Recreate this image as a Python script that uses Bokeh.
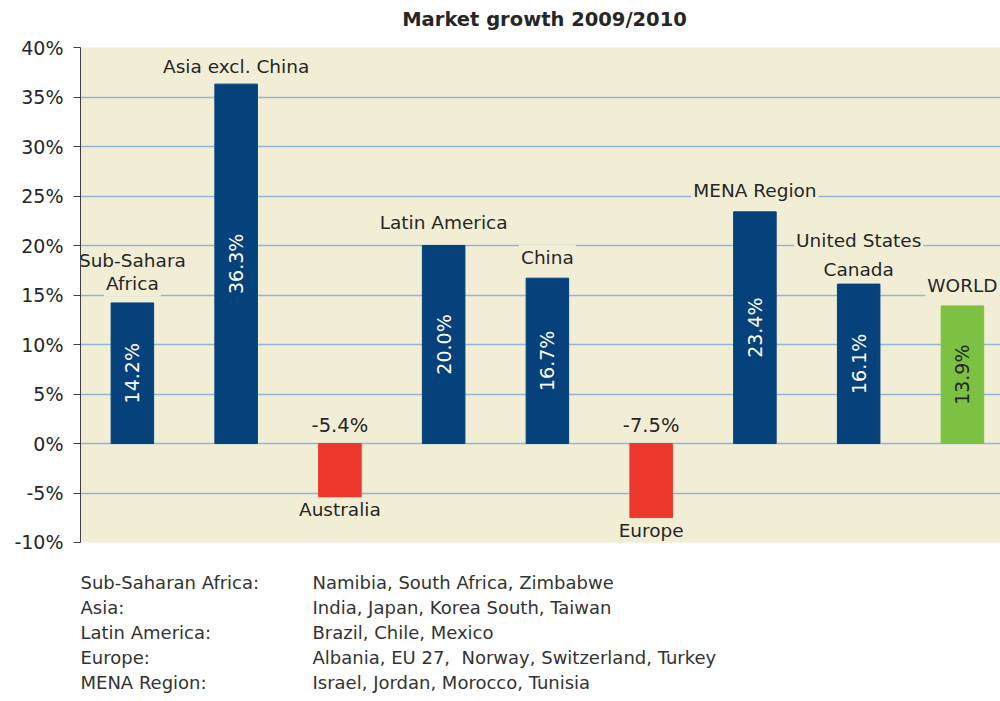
import math
from bokeh.plotting import figure
from bokeh.models import Range1d, FixedTicker, ColumnDataSource
from bokeh.layouts import column
from bokeh.core.properties import value
from bokeh.embed import file_html
from bokeh.resources import INLINE

# ---------------- data ----------------
title_text = "Market growth 2009/2010"
regions = ["Sub-Sahara Africa", "Asia excl. China", "Australia", "Latin America",
           "China", "Europe", "MENA Region", "United States Canada", "WORLD"]
region_lines = [["Sub-Sahara", "Africa"], ["Asia excl. China"], ["Australia"],
                ["Latin America"], ["China"], ["Europe"], ["MENA Region"],
                ["United States", "Canada"], ["WORLD"]]
growth = [14.2, 36.3, -5.4, 20.0, 16.7, -7.5, 23.4, 16.1, 13.9]
y_ticks = [-10, -5, 0, 5, 10, 15, 20, 25, 30, 35, 40]

note_regions = ["Sub-Saharan Africa:", "Asia:", "Latin America:", "Europe:", "MENA Region:"]
note_countries = ["Namibia, South Africa, Zimbabwe",
                  "India, Japan, Korea South, Taiwan",
                  "Brazil, Chile, Mexico",
                  "Albania, EU 27,\u00a0 Norway, Switzerland, Turkey",
                  "Israel, Jordan, Morocco, Tunisia"]

# ---------------- style ----------------
FONT = "DejaVu Sans"
NAVY = "#05417a"
RED = "#ee382d"
GREEN = "#7dc142"
BEIGE = "#f2eed5"
GRID = "#93b6d6"
TXT = "#262626"
line_step = {"Sub-Sahara Africa": 23, "United States Canada": 29}
label_gap = {"Sub-Sahara Africa": 19, "Asia excl. China": 18, "Latin America": 23,
             "China": 21, "MENA Region": 21, "United States Canada": 15, "WORLD": 20}

xs = [i + 0.5 for i in range(len(regions))]
colors = [GREEN if r == "WORLD" else (RED if g < 0 else NAVY) for r, g in zip(regions, growth)]

# ---------------- header (title) ----------------
h = figure(width=1000, height=30, output_backend="svg", toolbar_location=None,
           x_range=Range1d(80, 1000), y_range=Range1d(30, 0),
           min_border=0, min_border_left=80, x_axis_location=None, y_axis_location=None)
h.grid.visible = False
h.outline_line_color = None
h.background_fill_color = "white"
h.text(x=[544], y=[19], text=[title_text], text_align="center", text_baseline="middle",
       text_font=value(FONT), text_font_size="19.5px", text_font_style="bold",
       text_color=TXT)

# ---------------- main chart ----------------
XMAX = 8.867
p = figure(width=1000, height=522, output_backend="svg", toolbar_location=None,
           x_range=Range1d(0, XMAX), y_range=Range1d(-10, 40),
           min_border_left=80, min_border_right=0, min_border_top=17,
           min_border_bottom=10, x_axis_location=None)
p.background_fill_color = BEIGE
p.border_fill_color = "white"
p.outline_line_color = None

p.xgrid.visible = False
p.ygrid.grid_line_color = GRID
p.ygrid.grid_line_width = 1.5
p.yaxis.ticker = FixedTicker(ticks=y_ticks)
p.yaxis.major_label_overrides = {t: f"{t}%" for t in y_ticks}
p.yaxis.major_label_text_font = FONT
p.yaxis.major_label_text_font_size = "19px"
p.yaxis.major_label_text_color = TXT
p.yaxis.major_label_standoff = 10
p.yaxis.major_tick_in = 0
p.yaxis.major_tick_out = 7
p.yaxis.minor_tick_line_color = None
p.yaxis.axis_line_color = "#404040"
p.yaxis.major_tick_line_color = "#404040"

src = ColumnDataSource(dict(x=xs, top=growth, color=colors))
p.vbar(x="x", top="top", bottom=0, width=0.41, color="color", source=src)

# values inside positive bars (rotated)
pos = [i for i, g in enumerate(growth) if g > 0]
p.text(x=[xs[i] for i in pos], y=[growth[i] / 2 for i in pos],
       text=[f"{growth[i]:.1f}%" for i in pos], angle=math.pi / 2,
       text_align="center", text_baseline="middle",
       text_color=[TXT if regions[i] == "WORLD" else "white" for i in pos],
       text_font=value(FONT), text_font_size="19px")

# values of negative bars, above zero line
neg = [i for i, g in enumerate(growth) if g < 0]
p.text(x=[xs[i] for i in neg], y=[0 for i in neg],
       text=[f"{growth[i]:.1f}%" for i in neg], y_offset=-18,
       text_align="center", text_baseline="middle", text_color=TXT,
       text_font=value(FONT), text_font_size="19.5px")

# category labels
lx, ly, lt, lo = [], [], [], []
for i, (r, g) in enumerate(zip(regions, growth)):
    lines = region_lines[i]
    if g >= 0:
        step = line_step.get(r, 23)
        gap = label_gap.get(r, 21)
        for j, ln in enumerate(reversed(lines)):
            lx.append(xs[i]); ly.append(g); lt.append(ln); lo.append(-gap - j * step)
    else:
        for j, ln in enumerate(lines):
            lx.append(xs[i]); ly.append(g); lt.append(ln); lo.append(13 + j * 23)
p.text(x=lx, y=ly, text=lt, y_offset=lo, text_align="center", text_baseline="middle",
       text_color=TXT, text_font=value(FONT), text_font_size="18.5px",
       background_fill_color=BEIGE, padding=2)

# ---------------- notes ----------------
n = figure(width=1000, height=149, output_backend="svg", toolbar_location=None,
           x_range=Range1d(80, 1000), y_range=Range1d(4.78, -1.18),
           min_border=0, min_border_left=80, x_axis_location=None, y_axis_location=None)
n.grid.visible = False
n.outline_line_color = None
n.background_fill_color = "white"
rows = list(range(len(note_regions)))
n.text(x=[80] * len(rows), y=rows, text=note_regions, text_baseline="middle",
       text_color="#333333", text_font=value(FONT), text_font_size="18px")
n.text(x=[312] * len(rows), y=rows, text=note_countries, text_baseline="middle",
       text_color="#333333", text_font=value(FONT), text_font_size="18px")

layout = column(h, p, n, spacing=0)
open("out.html", "w").write(file_html(layout, INLINE))
